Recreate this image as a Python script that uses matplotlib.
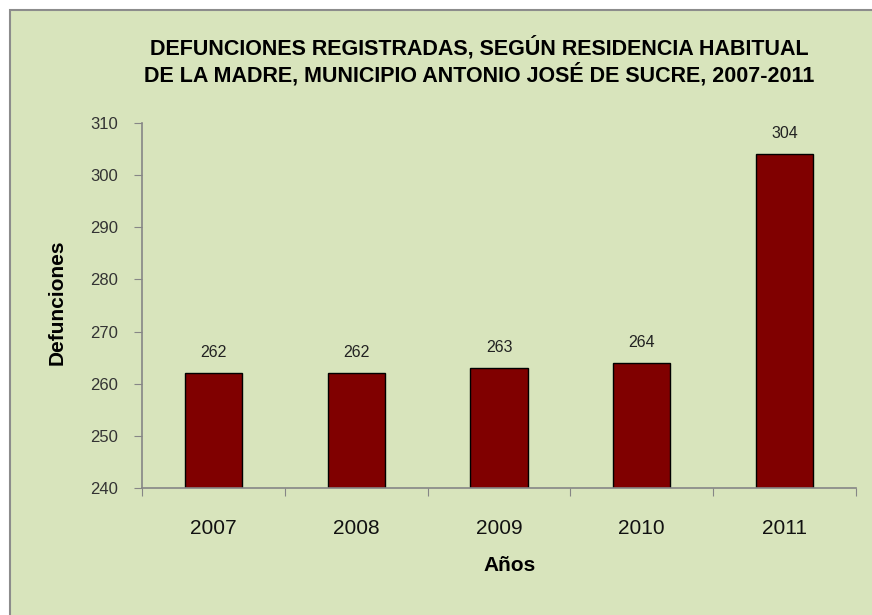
import matplotlib
matplotlib.use('Agg')
import matplotlib.pyplot as plt
from matplotlib.patches import Rectangle
import numpy as np

years = ['2007', '2008', '2009', '2010', '2011']
deaths = [262, 262, 263, 264, 304]
y_ticks = [240, 250, 260, 270, 280, 290, 300, 310]

title = ('DEFUNCIONES REGISTRADAS, SEGÚN RESIDENCIA HABITUAL\n'
         'DE LA MADRE, MUNICIPIO ANTONIO JOSÉ DE SUCRE, 2007-2011')

bg = '#d8e4bc'
spine_col = '#868686'
plt.rcParams['font.family'] = ['Liberation Sans', 'DejaVu Sans']

fig = plt.figure(figsize=(8.72, 6.15), dpi=100, facecolor='white')
# chart area with grey border (only top/left edges visible in the picture)
fig.patches.append(Rectangle((10 / 872, -0.05), 1.1, 1 - 10 / 615 + 0.05,
                             transform=fig.transFigure, facecolor=bg,
                             edgecolor='#8c8c8c', linewidth=1.5, zorder=-5))

ax = fig.add_axes([142 / 872, 1 - 488 / 615, 714 / 872, 365 / 615])
ax.set_facecolor('none')

x = np.arange(len(years))
ax.bar(x, deaths, width=0.4, color='#800000', edgecolor='black', linewidth=1, zorder=2)
for xi, v in zip(x, deaths):
    ax.annotate(str(v), (xi, v), xytext=(0, 15), textcoords='offset points',
                ha='center', va='center', fontsize=11.5, color='#222222')

ax.set_ylim(240, 310)
ax.set_yticks(y_ticks)
ax.set_xlim(-0.5, len(years) - 0.5)
ax.set_xticks(np.arange(-0.5, len(years)), labels=[])
ax.set_xticks(x, labels=years, minor=True)
ax.tick_params(axis='x', which='major', length=6, color=spine_col, direction='out')
ax.tick_params(axis='x', which='minor', length=0, pad=22, labelsize=15, labelcolor='#111111')
ax.tick_params(axis='y', length=6, color=spine_col, direction='out', pad=11,
               labelsize=12, labelcolor='#333333')

for s in ['top', 'right']:
    ax.spines[s].set_visible(False)
for s in ['left', 'bottom']:
    ax.spines[s].set_color(spine_col)
    ax.spines[s].set_linewidth(1.2)

ax.set_ylabel('Defunciones', fontsize=15, fontweight='bold')
ax.yaxis.set_label_coords(-0.105, 0.51)
ax.set_xlabel('Años', fontsize=15, fontweight='bold')
ax.xaxis.set_label_coords(0.515, -0.185)

fig.text(479 / 872, 1 - 61 / 615, title, ha='center', va='center', fontsize=15.5,
         fontweight='bold', linespacing=1.2)

fig.savefig('out.png', dpi=100, facecolor=fig.get_facecolor())
